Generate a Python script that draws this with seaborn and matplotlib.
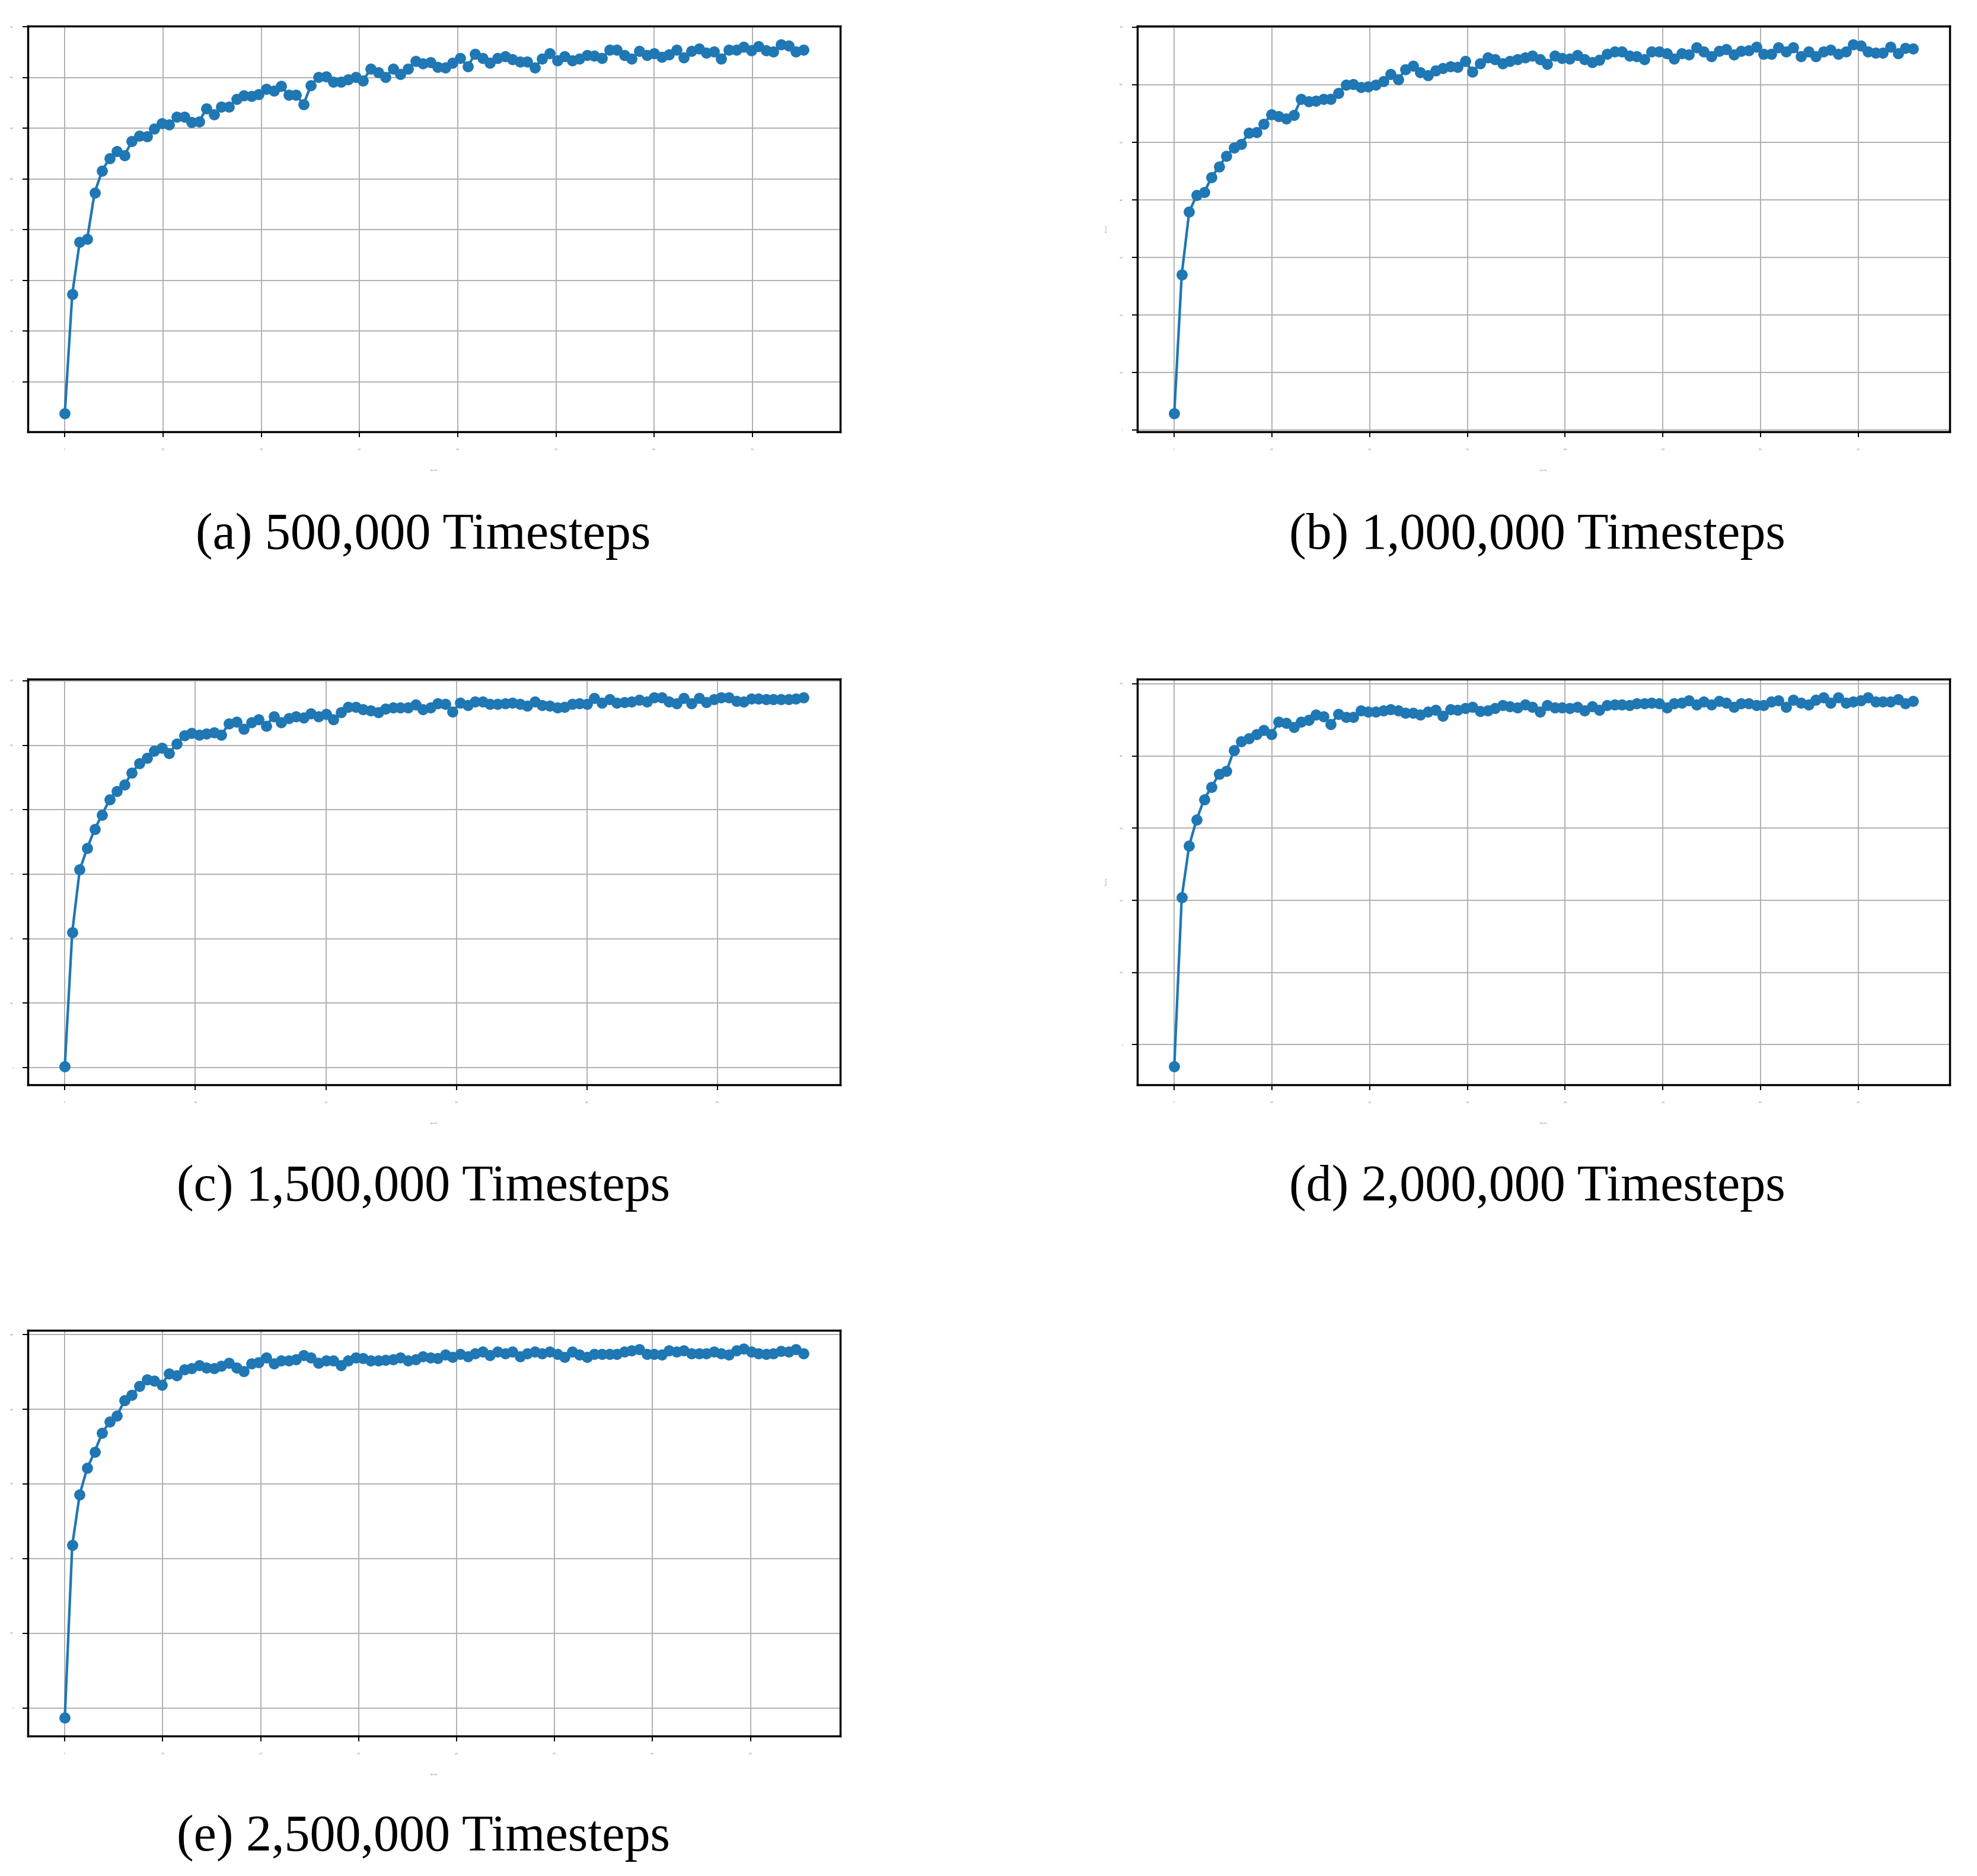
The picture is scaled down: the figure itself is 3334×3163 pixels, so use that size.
import numpy as np
import matplotlib
matplotlib.use("Agg")
import matplotlib.pyplot as plt
from matplotlib.ticker import MultipleLocator
import seaborn as sns

# evaluation index, 100 evaluations per run
evals = np.arange(100)

# mean evaluation reward per run
reward_500k = [
    -62, 173, 276, 282, 373, 416, 441, 455, 447, 474,
    485, 484, 499, 510, 507, 523, 522, 512, 513, 539,
    527, 542, 542, 557, 565, 563, 567, 578, 574, 583,
    566, 566, 547, 585, 601, 602, 591, 591, 596, 601,
    594, 617, 610, 601, 617, 607, 617, 632, 628, 630,
    621, 620, 629, 638, 622, 646, 638, 629, 638, 642,
    636, 631, 631, 620, 637, 647, 633, 642, 633, 637,
    644, 643, 638, 654, 654, 644, 637, 652, 644, 648,
    640, 645, 655, 639, 652, 657, 649, 651, 637, 655,
    654, 661, 653, 662, 653, 651, 665, 663, 651, 654,
]
reward_1m = [
    29, 270, 379, 408, 413, 439, 458, 476, 491, 497,
    517, 518, 532, 548, 545, 541, 547, 575, 571, 572,
    575, 575, 586, 600, 601, 596, 597, 600, 606, 619,
    609, 627, 633, 622, 617, 625, 629, 632, 631, 641,
    623, 637, 647, 644, 637, 641, 644, 647, 650, 644,
    636, 651, 646, 645, 652, 644, 639, 643, 654, 658,
    658, 650, 649, 644, 658, 658, 655, 645, 655, 653,
    665, 658, 649, 659, 662, 653, 659, 660, 666, 654,
    654, 665, 658, 665, 649, 658, 649, 658, 661, 654,
    658, 670, 668, 658, 656, 656, 666, 655, 664, 663,
]
reward_1_5m = [
    2, 210, 307, 340, 370, 392, 416, 429, 439, 457,
    472, 480, 491, 496, 488, 502, 515, 519, 516, 518,
    520, 516, 534, 536, 525, 535, 540, 530, 545, 535,
    542, 545, 543, 549, 545, 548, 540, 551, 559, 559,
    556, 554, 551, 557, 558, 558, 558, 563, 556, 558,
    565, 564, 552, 566, 562, 568, 568, 564, 564, 565,
    566, 564, 561, 568, 562, 561, 558, 559, 564, 565,
    564, 573, 566, 571, 566, 567, 568, 570, 568, 574,
    574, 568, 565, 573, 565, 573, 567, 571, 574, 574,
    569, 568, 572, 572, 571, 571, 571, 571, 572, 574,
]
reward_2m = [
    -30, 204, 276, 312, 340, 357, 375, 379, 408, 420,
    424, 430, 436, 430, 447, 446, 440, 447, 450, 457,
    455, 444, 458, 454, 454, 463, 461, 461, 463, 465,
    463, 460, 460, 457, 461, 464, 456, 465, 464, 466,
    468, 462, 463, 466, 470, 469, 467, 471, 468, 461,
    470, 467, 467, 466, 468, 463, 469, 464, 470, 471,
    471, 470, 473, 473, 474, 473, 467, 473, 474, 477,
    471, 475, 471, 476, 474, 468, 473, 473, 470, 470,
    475, 477, 468, 478, 474, 471, 478, 481, 474, 481,
    474, 475, 477, 481, 475, 475, 475, 479, 473, 476,
]
reward_2_5m = [
    -13, 218, 286, 321, 343, 368, 383, 391, 412, 419,
    431, 440, 438, 433, 448, 445, 453, 455, 459, 456,
    455, 458, 462, 456, 451, 461, 463, 469, 461, 465,
    465, 467, 472, 469, 462, 465, 465, 459, 465, 469,
    468, 465, 465, 466, 467, 469, 465, 467, 471, 469,
    468, 473, 470, 474, 471, 475, 477, 472, 477, 475,
    477, 471, 475, 477, 475, 477, 474, 470, 477, 473,
    470, 474, 474, 474, 474, 477, 479, 480, 474, 474,
    473, 479, 477, 479, 475, 475, 475, 477, 475, 473,
    479, 481, 477, 475, 474, 475, 478, 477, 480, 475,
]

runs = [reward_500k, reward_1m, reward_1_5m, reward_2m, reward_2_5m]
captions = [
    "(a) 500,000 Timesteps",
    "(b) 1,000,000 Timesteps",
    "(c) 1,500,000 Timesteps",
    "(d) 2,000,000 Timesteps",
    "(e) 2,500,000 Timesteps",
]
# episode tick labels under each panel
xtick_labels = [
    ["0", "100", "200", "300", "400", "500", "600", "700"],
    ["0", "100", "200", "300", "400", "500", "600", "700"],
    ["0", "100", "200", "300", "400", "500"],
    ["0", "100", "200", "300", "400", "500", "600", "700"],
    ["0", "100", "200", "300", "400", "500", "600", "700"],
]
# evaluations between two x ticks
xtick_steps = [13.17, 13.1, 17.5, 13.1, 13.13]

sns.set_theme(style="whitegrid", rc={
    "axes.edgecolor": "black",
    "axes.linewidth": 2.5,
    "grid.color": "#b0b0b0",
    "grid.linewidth": 1.4,
    "xtick.bottom": True,
    "ytick.left": True,
    "xtick.color": "black",
    "ytick.color": "black",
})
plt.rcParams["font.family"] = ["Liberation Serif", "DejaVu Serif"]

W, H = 3334, 3163
fig = plt.figure(figsize=(W / 100, H / 100), dpi=100)

col_left = [47, 1918]
row_top = [44, 1145, 2243]
ax_w, ax_h = 1370, 684
cap_x = [714, 2592]
cap_y = [904, 2003, 3099]

for i, (vals, cap) in enumerate(zip(runs, captions)):
    r, c = divmod(i, 2)
    left, top = col_left[c], row_top[r]
    ax = fig.add_axes([left / W, 1 - (top + ax_h) / H, ax_w / W, ax_h / H])
    sns.lineplot(x=evals, y=vals, ax=ax, color="#1f77b4", marker="o",
                 markersize=13.5, markeredgewidth=0, linewidth=3.1)
    labels = xtick_labels[i]
    ax.set_xticks(np.arange(len(labels)) * xtick_steps[i])
    ax.set_xticklabels(labels)
    ax.yaxis.set_major_locator(MultipleLocator(100))
    ax.tick_params(length=6.5, width=1.4, labelsize=3, labelcolor="#888888")
    ax.tick_params(axis="x", pad=14)
    ax.tick_params(axis="y", pad=11)
    ax.set_xlabel("Episode", fontsize=3, color="#888888", labelpad=22)
    # the left column's y label lies outside the page in the original
    if c == 1:
        ax.set_ylabel("Reward", fontsize=3, color="#888888", labelpad=14)
    else:
        ax.set_ylabel("")
    ax.grid(True)
    for s in ax.spines.values():
        s.set_color("black")
        s.set_linewidth(2.5)
    fig.text(cap_x[c] / W, 1 - cap_y[r] / H, cap, ha="center", va="center",
             fontsize=62, color="black")

fig.savefig("out.png", dpi=100, facecolor="white")
